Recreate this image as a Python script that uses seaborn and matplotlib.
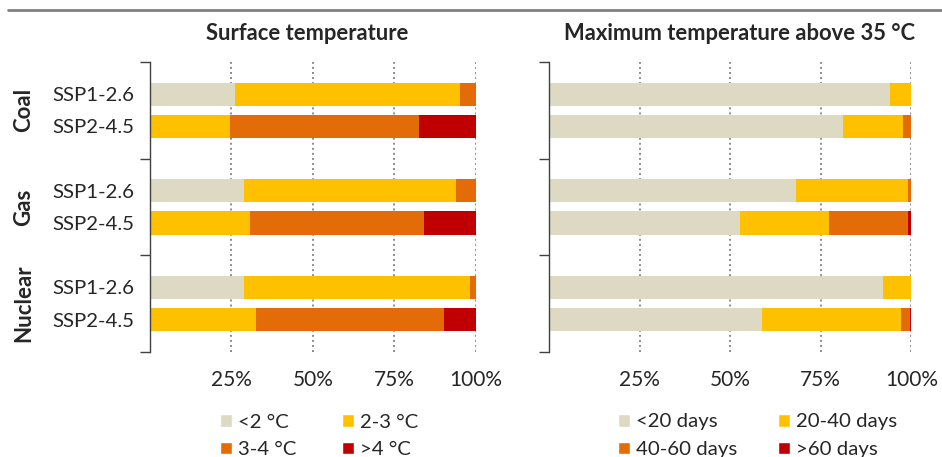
import numpy as np
import matplotlib.pyplot as plt
import seaborn as sns
from matplotlib.lines import Line2D
from matplotlib.patches import Patch
from matplotlib.transforms import blended_transform_factory

# ---- data ----
groups = ["Coal", "Gas", "Nuclear"]
scenarios = ["SSP1-2.6", "SSP2-4.5"] * 3

temp_lt2 = [26.1, 0.0, 29.0, 0.0, 29.0, 0.0]
temp_2_3 = [69.0, 24.7, 65.0, 30.7, 69.1, 32.6]
temp_3_4 = [4.9, 57.7, 6.0, 53.4, 1.9, 57.7]
temp_gt4 = [0.0, 17.6, 0.0, 15.9, 0.0, 9.7]
temp_labels = ["<2 °C", "2-3 °C", "3-4 °C", ">4 °C"]

days_lt20 = [94.2, 81.1, 68.1, 52.8, 92.2, 58.8]
days_20_40 = [5.8, 16.6, 31.0, 24.6, 7.8, 38.4]
days_40_60 = [0.0, 2.3, 0.9, 21.7, 0.0, 2.4]
days_gt60 = [0.0, 0.0, 0.0, 0.9, 0.0, 0.4]
days_labels = ["<20 days", "20-40 days", "40-60 days", ">60 days"]

colors = ["#DDD9C3", "#FFC000", "#E36C09", "#C00000"]
xticks = [25, 50, 75, 100]
xtick_labels = ["25%", "50%", "75%", "100%"]

# bar slots: two bars per group, one empty slot between groups
ypos = np.array([1, 2, 4, 5, 7, 8], dtype=float)
group_mid = [1.5, 4.5, 7.5]

sns.set_style("white")
plt.rcParams["font.family"] = ["Lato", "DejaVu Sans"]
FS = 14.7

W, H = 942, 457
fig = plt.figure(figsize=(W / 100, H / 100), dpi=100)
bottom = 1 - 351.7 / H
height = (351.7 - 62) / H
ax1 = fig.add_axes([149.5 / W, bottom, 326.5 / W, height])
ax2 = fig.add_axes([549 / W, bottom, 362.3 / W, height])


def stacked(ax, layers):
    cums = np.cumsum(np.array(layers, dtype=float), axis=0)
    # draw totals first, then smaller cumulative sums on top
    for cum, col in reversed(list(zip(cums, colors))):
        sns.barplot(x=cum, y=ypos, orient="y", native_scale=True, width=0.72,
                    color=col, saturation=1, errorbar=None, linewidth=0, ax=ax)
    for xv in xticks:
        ax.axvline(xv, color="#8c8c8c", lw=1.4, ls=(0, (1, 1.6)), zorder=0)
    ax.set_xlim(0, 100)
    ax.set_ylim(9, 0)
    ax.set_xticks(xticks, xtick_labels)
    ax.tick_params(axis="x", length=0, pad=13.5, labelsize=15)
    ax.set_yticks([0, 3, 6, 9], minor=True)
    ax.tick_params(axis="y", which="minor", left=True, length=7, width=1,
                   color="#404040", direction="out")
    for s in ["top", "right", "bottom"]:
        ax.spines[s].set_visible(False)
    ax.spines["left"].set_color("#404040")
    ax.spines["left"].set_linewidth(1)
    ax.set_xlabel("")
    ax.set_ylabel("")


stacked(ax1, [temp_lt2, temp_2_3, temp_3_4, temp_gt4])
stacked(ax2, [days_lt20, days_20_40, days_40_60, days_gt60])

ax1.set_yticks(ypos, scenarios)
ax1.tick_params(axis="y", which="major", length=0, pad=11, labelsize=FS)
ax2.set_yticks([])

trans = blended_transform_factory(fig.transFigure, ax1.transData)
for g, m in zip(groups, group_mid):
    ax1.text(24 / W, m, g, transform=trans, rotation=90, ha="center", va="center",
             fontsize=16, fontweight="bold")

fig.text(307.5 / W, 1 - 33 / H, "Surface temperature", ha="center", va="center",
         fontsize=15.8, fontweight="bold")
fig.text(739 / W, 1 - 33 / H, "Maximum temperature above 35 °C", ha="center", va="center",
         fontsize=15.8, fontweight="bold")

fig.add_artist(Line2D([8 / W, 1], [1 - 10 / H, 1 - 10 / H], color="#808080", lw=2))

# legends: one per column so the squares sit where the reference has them
px = FS * 100 / 72
for labels, xs in [(temp_labels, (220, 342)), (days_labels, (618, 778))]:
    for col, x0 in zip([(0, 2), (1, 3)], xs):
        handles = [Patch(facecolor=colors[i], label=labels[i]) for i in col]
        fig.legend(handles=handles, loc="upper left", bbox_to_anchor=(x0 / W, 1 - 413.5 / H),
                   ncol=1, frameon=False, fontsize=FS, handlelength=12 / px,
                   handleheight=12 / px, handletextpad=6 / px, labelspacing=0.52,
                   borderpad=0, borderaxespad=0)

fig.savefig("out.png", dpi=100)
